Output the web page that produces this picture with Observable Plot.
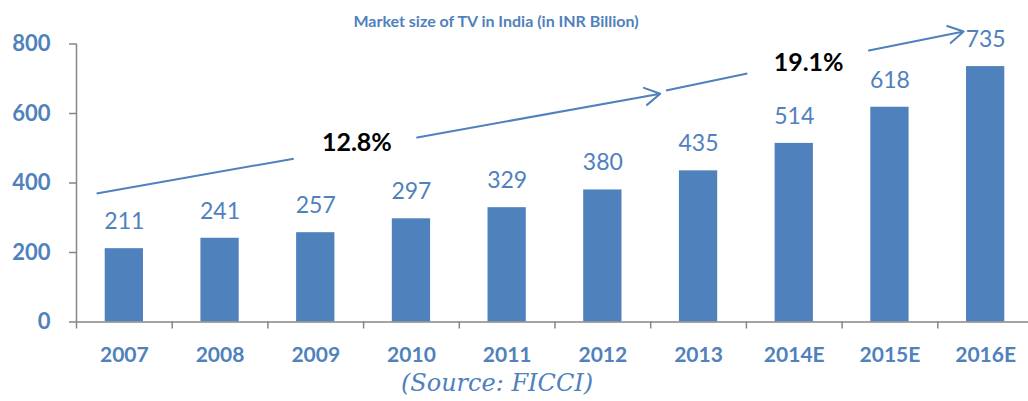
<!DOCTYPE html>
<html>
<head>
<meta charset="utf-8">
<script src="https://cdn.jsdelivr.net/npm/d3@7"></script>
<script src="https://cdn.jsdelivr.net/npm/@observablehq/plot@0.6"></script>
<style>
  html, body { margin: 0; padding: 0; background: #fff; overflow: hidden; }
  body { position: relative; width: 1028px; height: 401px; }
  #title { position: absolute; left: 0; top: 12px; width: 992px; text-align: center;
           font: bold 16px/18px Lato, sans-serif; color: #4F81BD; }
  #caption { width: 994px; text-align: center; font: italic 24px/30px "DejaVu Serif", serif; color: #4F81BD; }
</style>
</head>
<body>
<div id="chart"></div>
<div id="caption">(Source: FICCI)</div>
<div id="title">Market size of TV in India (in INR Billion)</div>
<script>
// ---- data ----
const years = ["2007", "2008", "2009", "2010", "2011", "2012", "2013", "2014E", "2015E", "2016E"];
const marketSize = [211, 241, 257, 297, 329, 380, 435, 514, 618, 735];
const yTicks = [0, 200, 400, 600, 800];

// CAGR annotations (x in category-index units, y in INR Billion)
const cagrText = ["12.8%", "19.1%"];
const cagrX = [2.93, 7.65];
const cagrY = [514, 744];

// trend arrow segments (same units); head = draw arrowhead at end
const trendX1 = [0.21, 3.56, 6.16, 8.28];
const trendY1 = [370, 531, 666, 781];
const trendX2 = [2.27, 6.10, 7.01, 9.27];
const trendY2 = [470, 657, 715, 836];
const trendHead = [false, true, false, true];

// ---- build tables ----
const bars = years.map((y, i) => ({i, year: y, value: marketSize[i]}));
const cagr = cagrText.map((t, k) => ({t, x: cagrX[k], y: cagrY[k]}));
const segs = trendX1.map((x1, k) => ({x1, y1: trendY1[k], x2: trendX2[k], y2: trendY2[k], head: trendHead[k]}));

const blue = "#4F81BD";
const gray = "#868686";

const chart = Plot.plot({
  width: 1028,
  height: 368,
  marginLeft: 76,
  marginRight: -5,
  marginTop: 43.5,
  marginBottom: 46.5,
  x: {type: "linear", domain: [0, years.length]},
  y: {domain: [0, 800]},
  style: {fontFamily: "Lato, sans-serif", background: "transparent", overflow: "visible"},
  marks: [
    Plot.rectY(bars, {x1: d => d.i + 0.3, x2: d => d.i + 0.7, y1: 0, y2: "value", fill: blue}),
    Plot.ruleY([0], {stroke: gray, strokeWidth: 1.5}),
    Plot.ruleX([0], {stroke: gray, strokeWidth: 1.5}),
    Plot.axisY(yTicks, {tickSize: 7, tickPadding: 19, stroke: gray, strokeWidth: 1.5, color: blue,
      fontSize: 22, fontWeight: "bold", label: null}),
    Plot.axisX(d3.range(years.length), {tickSize: 7, stroke: gray, strokeWidth: 1.5, tickFormat: () => "", label: null}),
    Plot.axisX(d3.range(years.length).map(i => i + 0.5), {tickSize: 0, tickPadding: 25, color: blue,
      fontSize: 21, fontWeight: "bold", tickFormat: v => years[Math.floor(v)], label: null}),
    Plot.text(bars, {x: d => d.i + 0.5, y: "value", text: d => String(d.value), dy: -27,
      lineAnchor: "middle", fill: blue, fontSize: 23}),
    Plot.link(segs.filter(d => !d.head), {x1: "x1", y1: "y1", x2: "x2", y2: "y2", stroke: blue, strokeWidth: 2}),
    Plot.arrow(segs.filter(d => d.head), {x1: "x1", y1: "y1", x2: "x2", y2: "y2", stroke: blue, strokeWidth: 2,
      headLength: 13, headAngle: 60}),
    Plot.text(cagr, {x: "x", y: "y", text: "t", lineAnchor: "middle", fill: "#000", fontSize: 25, fontWeight: "bold"})
  ]
});
document.getElementById("chart").appendChild(chart);
</script>
</body>
</html>
